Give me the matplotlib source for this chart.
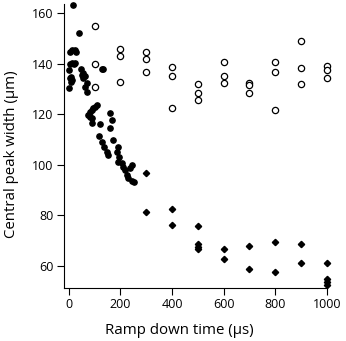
import matplotlib
matplotlib.use('Agg')
import matplotlib.pyplot as plt

plt.rcParams['font.family'] = ['Open Sans', 'DejaVu Sans']

#points pleins (rampe courte)
t_fill = [17, 39, 4, 10, 27, 23, 5, 10, 19, 23, 0, 45, 55, 131, 127,
          7, 10, 4, 7, 49, 62, 55, 69, 62, 69, 0,
          75, 81, 88, 94, 101, 107, 88, 81, 88, 120,
          159, 166, 159, 118, 127, 137, 146, 150,
          172, 191, 185, 194, 191, 205, 211, 243, 237, 217, 224, 230, 243, 253]
w_fill = [163.3, 152.3, 144.8, 145.5, 144.8, 145.5, 140, 140.4, 140, 140.4, 137.5, 137.8, 136.2, 138, 137.8,
          134.8, 133.6, 134.2, 132.9, 135.5, 135.2, 134.2, 132.5, 130.9, 128.9, 130.3,
          119.7, 121, 121.7, 122.4, 123, 123.7, 118.4, 119, 116.4, 116,
          120.4, 117.7, 114.7, 111.4, 109.1, 107.1, 105.2, 103.9,
          109.8, 107.1, 105.2, 103.2, 101.2, 100.6, 99.2, 99.9, 98.6, 97.9, 95.9, 94.6, 93.6, 93.0]

#cercles ouverts
t_open = [100, 100, 100, 200, 200, 200, 300, 300, 300, 400, 400, 400,
          500, 500, 500, 600, 600, 600, 700, 700, 700, 800, 800, 800,
          900, 900, 900, 1000, 1000, 1000]
w_open = [155, 140, 130.7, 145.9, 143.2, 132.9, 144.8, 141.8, 136.9, 138.8, 135.3, 122.4,
          131.9, 128.5, 125.6, 140.6, 135.3, 132.3, 132.3, 131.5, 128.3, 140.6, 136.6, 121.6,
          149.1, 138.4, 132, 139.1, 137.5, 134.4]

#losanges
t_dia = [300, 300, 400, 400, 500, 500, 500, 500, 600, 600, 700, 700,
         800, 800, 900, 900, 1000, 1000, 1000, 1000]
w_dia = [96.6, 81.4, 82.3, 76.1, 75.7, 68.7, 67.6, 66.6, 66.6, 62.5, 67.8, 58.6,
         69.3, 57.4, 68.5, 61.0, 61.2, 54.6, 53.5, 52.5]

fig = plt.figure(figsize=[3.46, 3.41], dpi=100)
ax = fig.add_axes([0.1858, 0.1563, 0.7584, 0.832])

ax.plot(t_open, w_open, 'o', mfc='white', mec='black', mew=0.9, ms=4.5, clip_on=False)
ax.plot(t_fill, w_fill, 'o', color='black', ms=3.8, clip_on=False)
ax.plot(t_dia, w_dia, 'D', color='black', ms=3.2, clip_on=False)

ax.set_xlim(-18, 1000)
ax.set_ylim(51.3, 163.7)
ax.set_xticks([0, 200, 400, 600, 800, 1000])
ax.set_yticks([60, 80, 100, 120, 140, 160])
for s in ['top', 'right']:
    ax.spines[s].set_visible(False)
for s in ['left', 'bottom']:
    ax.spines[s].set_linewidth(0.8)
ax.tick_params(direction='out', length=4.7, width=0.8, labelsize=9, pad=3)

ax.set_xlabel('Ramp down time (µs)', fontsize=10.8)
ax.xaxis.set_label_coords(0.44, -0.125)
ax.set_ylabel('Central peak width (µm)', fontsize=10.8)
ax.yaxis.set_label_coords(-0.172, 0.47)

plt.savefig('out.png', dpi=100)
